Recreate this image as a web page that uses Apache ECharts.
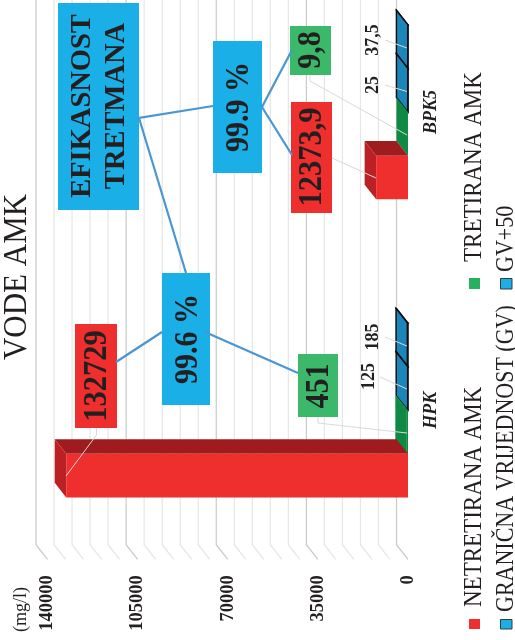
<!DOCTYPE html>
<html><head><meta charset="utf-8">
<style>html,body{margin:0;padding:0;background:#fff}#c{width:515px;height:640px}</style>
<script src="https://cdn.jsdelivr.net/npm/echarts@6/dist/echarts.min.js"></script>
</head><body><div id="c"></div>
<script>
const categories = ['HPK', 'BPK5'];
const untreated = [132729, 12373.9];
const treated = [451, 9.8];
const limitGV = [125, 25];
const limitGV50 = [185, 37.5];
const gridTicks = [0,7000,14000,21000,28000,35000,42000,49000,56000,63000,70000,77000,84000,91000,98000,105000,112000,119000,126000,133000,140000];
const seriesNames = ['NETRETIRANA AMK','TRETIRANA AMK','GRANIČNA VRIJEDNOST (GV)','GV+50'];
const efficiency = ['99.6 %','99.9 %'];

const FONT = '"Liberation Serif","Times New Roman",serif';
const INK = '#231F20', RED = '#EF2E2E', GREEN = '#3BB86A', BLUE = '#1AAFE6', LINK = '#4A96D2', LEAD = '#D9D9D9';
const DX = -11.5, DY = -14.6, BAR = 43.6;

const fmt = v => String(v).replace('.', ',');

function barRender(slot, faces, stroke) {
  return function (params, api) {
    const p = api.coord([api.value(0), api.value(1)]);
    const zero = api.coord([0, api.value(1)]);
    const y1 = p[1] + (2 - slot) * BAR;   // lower screen edge
    const y0 = y1 - BAR;
    const xv = p[0], xz = zero[0];
    const st = c => ({ fill: c, stroke: stroke || null, lineWidth: stroke ? 1.4 : 0 });
    const poly = (pts, c) => ({ type: 'polygon', shape: { points: pts }, style: st(c) });
    return { type: 'group', children: [
      poly([[xz + DX, y0 + DY], [xv + DX, y0 + DY], [xv, y0], [xz, y0]], faces.side),
      poly([[xv + DX, y0 + DY], [xv + DX, y1 + DY], [xv, y1], [xv, y0]], faces.top),
      poly([[xv, y0], [xz, y0], [xz, y1], [xv, y1]], faces.front)
    ]};
  };
}
function gridRender(params, api) {
  const v = api.value(0);
  const x = api.coord([v, 0])[0];
  const bottom = params.coordSys.y + params.coordSys.height;
  const major = v % 35000 === 0;
  return { type: 'polyline', shape: { points: [[x + DX, 0], [x + DX, bottom + DY], [x, bottom]] },
    style: { fill: null, stroke: major ? '#C9C9C9' : '#E6E6E6', lineWidth: 1.2 } };
}
const pairs = a => a.map((v, i) => [v, i]);
const barSeries = (name, data, slot, faces, stroke) => ({
  name, type: 'custom', coordinateSystem: 'cartesian2d', clip: false, z: 3 + (3 - slot),
  encode: { x: 0, y: 1 }, data: pairs(data), renderItem: barRender(slot, faces, stroke)
});

function vtext(text, cx, cy, size, weight, sy) {
  return { type: 'text', z: 100, x: cx + 1.5, y: cy, rotation: Math.PI / 2, scaleY: sy || 1,
    style: { text, font: `${weight} ${size}px ${FONT}`, fill: INK, align: 'center', verticalAlign: 'middle', lineHeight: 34 } };
}
function ltext(text, cx, bottom, size, sy) {
  return { type: 'text', z: 100, x: cx + 1, y: bottom, rotation: Math.PI / 2, scaleY: sy || 1,
    style: { text, font: `normal ${size}px ${FONT}`, fill: INK, align: 'left', verticalAlign: 'middle' } };
}
const box = (x0, y0, x1, y1, c, extra) => Object.assign({ type: 'rect', z: 90, shape: { x: x0, y: y0, width: x1 - x0, height: y1 - y0 },
  style: Object.assign({ fill: c }, extra || {}) });
const line = (pts, c, w, z) => ({ type: 'polyline', z: z || 95, shape: { points: pts }, style: { fill: null, stroke: c, lineWidth: w } });

const graphicEls = [
  vtext('VODE AMK', 16, 277, 31, 'normal', 1.08),
  ltext('(mg/l)', 20, 632, 18),
  // legend
  box(469, 619, 480, 629, RED), ltext(seriesNames[0], 474, 607, 23, 1.05),
  box(469, 278, 480, 289, '#27B05F'), ltext(seriesNames[1], 474, 262, 23, 1.05),
  box(500.5, 619.5, 512, 629, BLUE, { stroke: '#3A3A3A', lineWidth: 1 }), ltext(seriesNames[2], 506, 612, 22, 1.1),
  box(500.5, 278.5, 512, 289, BLUE, { stroke: '#3A3A3A', lineWidth: 1 }), ltext(seriesNames[3], 506, 272, 22, 1.1),
  // leader lines
  line([[380, 377], [407, 389]], LEAD, 1), line([[385, 337], [407, 346]], LEAD, 1),
  line([[318, 417], [318, 423], [407, 433]], LEAD, 1),
  line([[96.5, 428], [96.5, 435], [66, 476]], LEAD, 1),
  line([[385, 85], [407, 91.5]], LEAD, 1), line([[385, 40], [407, 48]], LEAD, 1),
  line([[310, 75], [310, 81], [407, 135]], LEAD, 1),
  line([[332, 158], [376, 178]], LEAD, 1),
  // connectors
  line([[213, 106], [139, 118], [186, 273]], LINK, 2.2),
  line([[292, 50], [262, 107], [292, 155]], LINK, 2.2),
  line([[162, 332], [116, 362]], LINK, 2.2),
  line([[205, 332], [298, 373]], LINK, 2.2, 96),
  // boxes
  box(58, 3, 139, 210, BLUE),
  vtext('EFIKASNOST\nTRETMANA', 98, 106, 28.5, 'bold'),
  box(213, 41, 262, 173, BLUE), vtext(efficiency[1], 238, 107, 30, 'bold', 1.1),
  box(162, 273, 210, 405, BLUE), vtext(efficiency[0], 187, 339, 30, 'bold', 1.1),
  box(75, 324, 117, 428, RED), vtext(String(untreated[0]), 96, 376, 30.5, 'bold', 1.1),
  box(298, 354, 338, 417, GREEN), vtext(String(treated[0]), 318, 386, 30, 'bold', 1.1),
  box(291, 102, 332, 213, RED), vtext(fmt(untreated[1]), 311, 157, 30.5, 'bold', 1.1),
  box(290, 26, 331, 75, GREEN), vtext(fmt(treated[1]), 310, 50, 30, 'bold', 1.1),
  // value labels
  vtext(String(limitGV[0]), 367, 376.5, 18, 'bold', 1.1),
  vtext(String(limitGV50[0]), 371, 337, 18, 'bold', 1.1),
  vtext(fmt(limitGV[1]), 371, 85, 18, 'bold', 1.1),
  vtext(fmt(limitGV50[1]), 371, 40, 18, 'bold', 1.1)
];

const chart = echarts.init(document.getElementById('c'), null, { renderer: 'canvas' });
chart.setOption({
  animation: false,
  backgroundColor: '#fff',
  grid: { left: 47.5, right: 107, top: -37, bottom: 80.7, containLabel: false, outerBoundsMode: 'none' },
  xAxis: { type: 'value', inverse: true, min: 0, max: 140000, interval: 35000,
    axisLine: { show: false }, axisTick: { show: false }, splitLine: { show: false },
    axisLabel: { rotate: 90, margin: 16, color: INK, fontFamily: FONT, fontWeight: 'bold', fontSize: 18.5, hideOverlap: false, padding: [2, 0, 0, 0], formatter: v => String(v) } },
  yAxis: { type: 'category', data: categories, position: 'right',
    axisLine: { show: false }, axisTick: { show: false }, splitLine: { show: false },
    axisLabel: { rotate: 90, margin: 14, color: INK, fontFamily: FONT, fontWeight: 'bold', fontStyle: 'italic', fontSize: 18 } },
  series: [
    { name: 'grid', type: 'custom', coordinateSystem: 'cartesian2d', clip: false, z: 1, encode: { x: 0 },
      data: gridTicks.map(v => [v]), renderItem: gridRender, silent: true },
    barSeries(seriesNames[3], limitGV50, 3, { side: '#1C85B9', top: '#1C85B9', front: '#1C85B9' }, '#0B0B0B'),
    barSeries(seriesNames[2], limitGV, 2, { side: '#1C85B9', top: '#1C85B9', front: '#1C85B9' }, '#0B0B0B'),
    barSeries(seriesNames[1], treated, 1, { side: '#0F8A45', top: '#0F8A45', front: '#0F8A45' }),
    barSeries(seriesNames[0], untreated, 0, { side: '#9E1B1E', top: '#BB2024', front: RED })
  ],
  graphic: { elements: graphicEls }
});
</script></body></html>
